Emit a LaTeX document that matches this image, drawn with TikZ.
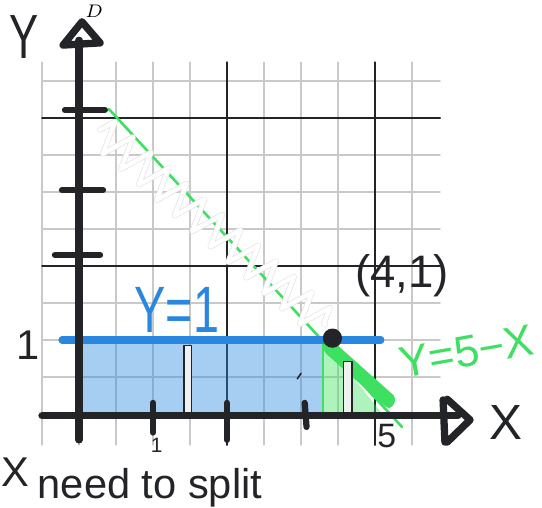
\documentclass[tikz,border=0pt]{standalone}
\usepackage{fontspec}
\setsansfont{Liberation Sans}
\usetikzlibrary{decorations.pathmorphing}
\definecolor{ink}{HTML}{232428}
\definecolor{penblue}{HTML}{2A87E0}
\definecolor{pengreen}{HTML}{3DE060}
\definecolor{gridgray}{HTML}{C9C9C9}
\newcommand{\penfont}[1]{\sffamily\fontsize{#1}{#1}\selectfont}
\begin{document}
\begin{tikzpicture}[x=0.5cm, y=0.5cm, line cap=round, line join=round,
  hand/.style={inner sep=0pt, transform shape},
  axis/.style={ink, line width=2.8pt},
  tick/.style={ink, line width=2.4pt}]
            \useasboundingbox (-2.135,-2.514) rectangle (12.514,11.189);
            \draw[gridgray, line width=0.4pt, step=0.5cm] (-1,-0.84) grid (9.76,9.51);
            \draw[ink, line width=0.6pt] (4,-0.84) -- (4,9.51) (8,-0.84) -- (8,9.51);
            \draw[ink, line width=0.6pt] (-1,4) -- (9.76,4) (-1,8) -- (9.76,8);
            \fill[penblue, fill opacity=0.42] (0,0) rectangle (6.6,2);
            \draw[penblue, line width=0.6pt] (0,0) rectangle (6.6,2);
            \fill[pengreen, fill opacity=0.42] (6.6,2) -- (6.6,0) -- (8.2,0) -- cycle;
            \draw[pengreen, line width=0.6pt] (6.6,2) -- (6.6,0);
            \draw[pengreen, line width=1pt] (0.81,8.24) -- (8.73,-0.35);
            \draw[gray!20, double=white, double distance=1.6pt, line width=0.3pt, decorate,
              decoration={zigzag, segment length=0.32cm, amplitude=0.22cm}]
              (0.57,7.68) -- (6.65,2.41);
            \fill[pengreen, rounded corners=2pt] (6.6,2.02) -- (6.85,1.98) -- (8.6,0.42) -- (8.4,0.1) -- (6.6,1.7) -- cycle;
            \draw[penblue, line width=2.7pt] (-0.46,2) -- (8.16,2);
            \draw[ink, line width=0.5pt, fill=gray!12] (2.84,-0.03) rectangle (3.05,1.86);
            \draw[ink, line width=0.5pt, fill=gray!12] (7.14,-0.08) rectangle (7.38,1.41);
            \draw[ink, line width=0.6pt] (5.9,0.95) -- (6.0,1.1);
            \fill[ink] (6.85,2.05) circle (0.26);
            \draw[axis] (-1,-0.05) -- (10.24,-0.05);
            \draw[axis] (0,-0.7) -- (0,10.1);
            \draw[axis] (0.08,10.6) -- (-0.43,9.97) -- (0.57,10.03) -- cycle;
            \draw[axis] (9.84,0.38) -- (9.89,-0.76) (9.95,0.4) -- (10.57,-0.16) -- (9.95,-0.76);
            \draw[tick] (2,0.3) -- (2,-0.5);
            \draw[tick] (4,0.3) -- (4,-0.7);
            \draw[tick] (6.1,0.3) -- (6.15,-0.35);
            \draw[tick] (-0.38,8.22) -- (0.7,8.22);
            \draw[tick] (-0.46,6.05) -- (0.65,6.05);
            \draw[tick] (-0.65,4.3) -- (0.57,4.3);
            \node[hand, text=ink, font=\penfont{24}, xscale=0.7] (ylabel) at (-1.49,10.19) {Y};
            \node[inner sep=0pt, font=\scriptsize] (dlabel) at (0.41,10.89) {$D$};
            \node[hand, text=ink, font=\penfont{19}] (xlabel) at (11.54,-0.22) {X};
            \node[hand, text=ink, font=\penfont{16}] (yone) at (-1.38,1.86) {1};
            \node[hand, text=ink, font=\penfont{8}] (xone) at (2.1,-0.85) {1};
            \node[hand, text=ink, font=\penfont{13}] (xfive) at (8.32,-0.6) {5};
            \node[hand, text=penblue, font=\penfont{18}, yscale=1.4] (bluelabel) at (2.65,2.81) {Y=1};
            \node[hand, text=ink, font=\penfont{17.5}] (corner) at (8.73,3.75) {(4,1)};
            \node[hand, text=pengreen, font=\penfont{17}, rotate=10] (greenlabel) at (10.48,1.68) {Y=5−X};
            \node[hand, text=ink, font=\penfont{16}] (notex) at (-1.73,-1.57) {X};
            \node[hand, text=ink, font=\penfont{16}] (note) at (1.92,-2.0) {need to split};
        \end{tikzpicture}
\end{document}
